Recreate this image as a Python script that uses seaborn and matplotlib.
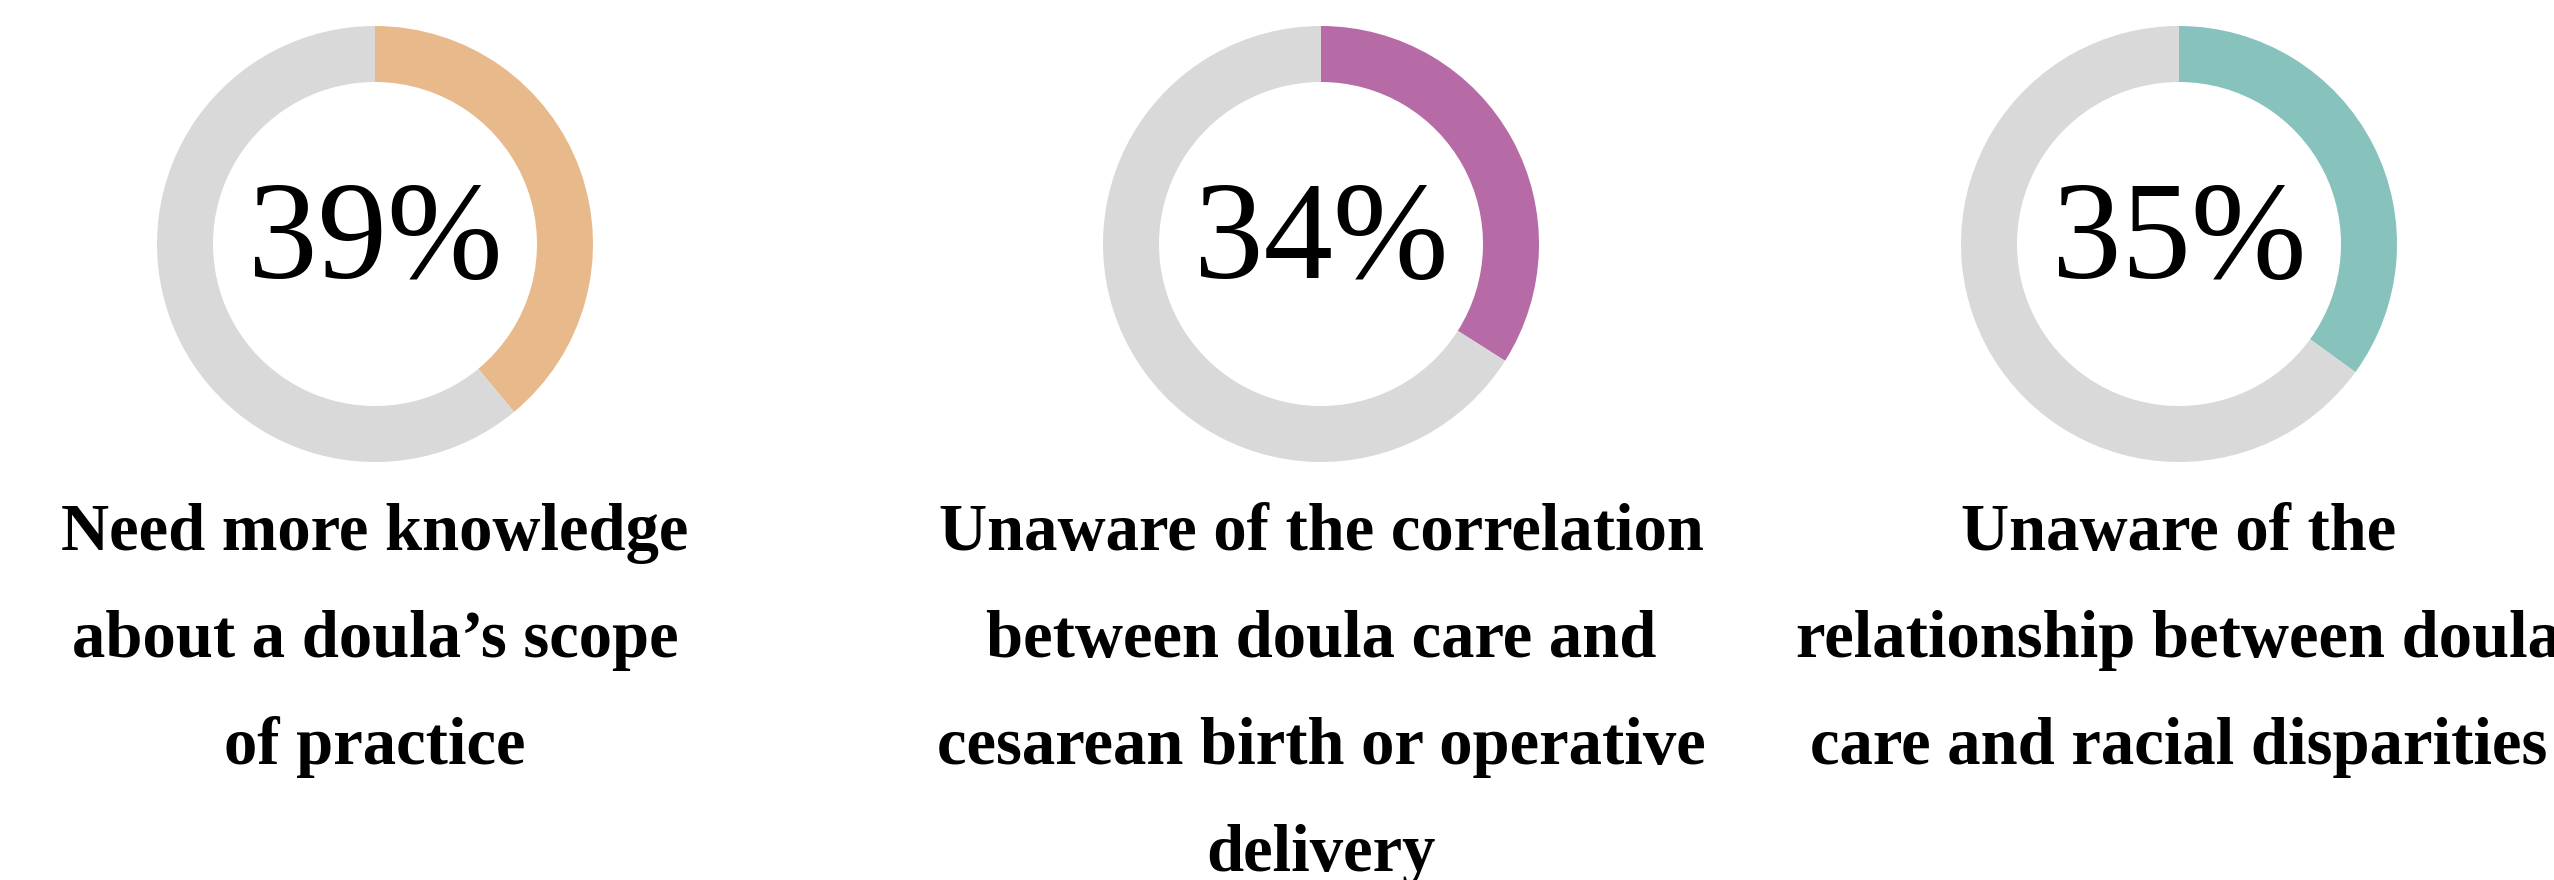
import matplotlib
matplotlib.use("Agg")
import matplotlib.pyplot as plt
import seaborn as sns

# values
percents = [39, 34, 35]
ring_colors = ["#E8B98B", "#B76BA6", "#88C2BC"]
rest_color = "#D9D9D9"
labels = [
    ["Need more knowledge", "about a doula\u2019s scope", "of practice"],
    ["Unaware of the correlation", "between doula care and",
     "cesarean birth or operative", "delivery"],
    ["Unaware of the", "relationship between doula",
     "care and racial disparities"],
]

sns.set_theme(style="white")
plt.rcParams["font.family"] = ["Liberation Serif", "DejaVu Serif"]

W, H = 2554, 880
fig = plt.figure(figsize=(W / 100, H / 100), dpi=100)
ax = fig.add_axes([0, 0, 1, 1])

# layout in pixels (y up)
centers_x = [375, 1321, 2179]
center_y = H - 244
radius = 218
ring = 56
pct_baseline = H - 278
label_top = H - 550
line_step = 107

for i, p in enumerate(percents):
    ax.pie([p, 100 - p], colors=[ring_colors[i], rest_color],
           startangle=90, counterclock=False,
           center=(centers_x[i], center_y), radius=radius,
           wedgeprops=dict(width=ring, linewidth=0))
    ax.text(centers_x[i], pct_baseline, f"{p}%", ha="center", va="baseline",
            fontsize=100, color="#000000")
    for j, line in enumerate(labels[i]):
        ax.text(centers_x[i], label_top - j * line_step, line,
                ha="center", va="baseline", fontsize=48,
                fontweight="bold", color="#000000")

ax.set_xlim(0, W)
ax.set_ylim(0, H)
ax.set_aspect("auto")
ax.axis("off")

fig.savefig("out.png", dpi=100, facecolor="white")
